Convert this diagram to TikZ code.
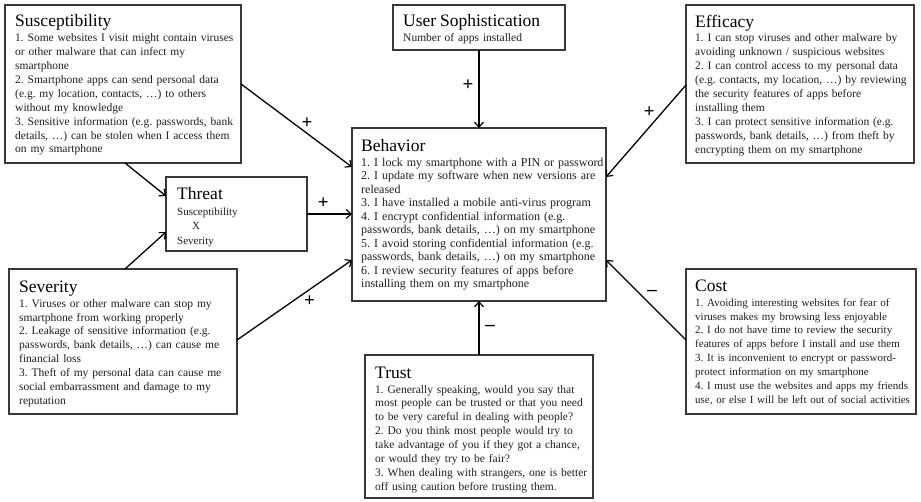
\documentclass[tikz,border=0pt]{standalone}
\usepackage{fontspec}
\setmainfont{Liberation Serif}
\usetikzlibrary{arrows.meta}
\setlength{\parindent}{0pt}
\frenchspacing
\newcommand{\boxtitle}[1]{{\fontsize{17.5}{18}\selectfont\color{black}#1\par}\vspace{1pt}}
\tikzset{
  box/.style={draw=black!78, line width=1.1pt, inner sep=0pt, outer sep=0pt, anchor=north west},
  txt/.style={inner sep=0pt, anchor=north west, text width=300pt, align=left, text=black!88,
    font=\fontsize{11.5}{13.9}\selectfont},
  arr/.style={line width=1.3pt, -{Straight Barb[length=5pt,width=9pt,line width=1.2pt]}},
  lbl/.style={font=\fontsize{19}{19}\selectfont\bfseries, inner sep=0pt}
}
\begin{document}
\begin{tikzpicture}[x=1pt,y=1pt]
\useasboundingbox[fill=white] (0,0) rectangle (921,-501);

% boxes
\node[box, minimum width=236pt, minimum height=158pt] (sus) at (5,-5) {};
\node[box, minimum width=141pt, minimum height=74pt] (thr) at (166,-177) {};
\node[box, minimum width=228pt, minimum height=145pt] (sev) at (9,-269) {};
\node[box, minimum width=172pt, minimum height=45pt] (usr) at (393,-5) {};
\node[box, minimum width=254pt, minimum height=173pt] (beh) at (352,-128) {};
\node[box, minimum width=228pt, minimum height=158pt] (eff) at (686,-5) {};
\node[box, minimum width=230pt, minimum height=145pt] (cost) at (686,-269) {};
\node[box, minimum width=228pt, minimum height=143pt] (tru) at (365,-355) {};

% texts
\node[txt] (susT) at (15,-14.5) {\boxtitle{Susceptibility}
1. Some websites I visit might contain viruses\\
or other malware that can infect my\\
smartphone\\
2. Smartphone apps can send personal data\\
(e.g. my location, contacts, \dots) to others\\
without my knowledge\\
3. Sensitive information (e.g. passwords, bank\\
details, \dots) can be stolen when I access them\\
on my smartphone};

\node[txt, font=\fontsize{11}{14.5}\selectfont] (thrT) at (177,-187.5) {\boxtitle{Threat}
Susceptibility\\
\hspace*{15pt}X\\
Severity};

\node[txt] (sevT) at (19,-280.5) {\boxtitle{Severity}
1. Viruses or other malware can stop my\\
smartphone from working properly\\
2. Leakage of sensitive information (e.g.\\
passwords, bank details, \dots) can cause me\\
financial loss\\
3. Theft of my personal data can cause me\\
social embarrassment and damage to my\\
reputation};

\node[txt] (usrT) at (403,-14.5) {\boxtitle{User Sophistication}
Number of apps installed};

\node[txt, font=\fontsize{12}{13.5}\selectfont] (behT) at (361,-139.5) {\boxtitle{Behavior}
1. I lock my smartphone with a PIN or password\\
2. I update my software when new versions are\\
released\\
3. I have installed a mobile anti-virus program\\
4. I encrypt confidential information (e.g.\\
passwords, bank details, \dots) on my smartphone\\
5. I avoid storing confidential information (e.g.\\
passwords, bank details, \dots) on my smartphone\\
6. I review security features of apps before\\
installing them on my smartphone};

\node[txt] (effT) at (695,-14.5) {\boxtitle{Efficacy}
1. I can stop viruses and other malware by\\
avoiding unknown / suspicious websites\\
2. I can control access to my personal data\\
(e.g. contacts, my location, \dots) by reviewing\\
the security features of apps before\\
installing them\\
3. I can protect sensitive information (e.g.\\
passwords, bank details, \dots) from theft by\\
encrypting them on my smartphone};

\node[txt, font=\fontsize{11}{13.9}\selectfont] (costT) at (695,-279.5) {\boxtitle{Cost}
1. Avoiding interesting websites for fear of\\
viruses makes my browsing less enjoyable\\
2. I do not have time to review the security\\
features of apps before I install and use them\\
3. It is inconvenient to encrypt or password-\\
protect information on my smartphone\\
4. I must use the websites and apps my friends\\
use, or else I will be left out of social activities};

\node[txt] (truT) at (375,-366.5) {\boxtitle{Trust}
1. Generally speaking, would you say that\\
most people can be trusted or that you need\\
to be very careful in dealing with people?\\
2. Do you think most people would try to\\
take advantage of you if they got a chance,\\
or would they try to be fair?\\
3. When dealing with strangers, one is better\\
off using caution before trusting them.};

% connectors
\draw[arr] ([yshift=-79pt]sus.north east) -- ([yshift=-39pt]beh.north west)
  node[lbl, pos=0.595, yshift=10pt] {+};
\draw[arr] (thr.east) -- (thr.east -| beh.west)
  node[lbl, pos=0.36, yshift=11pt] {+};
\draw[arr] ([yshift=-71pt]sev.north east) -- ([yshift=-132pt]beh.north west)
  node[lbl, pos=0.63, yshift=-12pt] {+};
\draw[arr] ([xshift=120pt]sus.south west) -- ([yshift=-19pt]thr.north west);
\draw[arr] ([xshift=116pt]sev.north west) -- ([yshift=-55pt]thr.north west);
\draw[arr] (usr.south) -- (usr.south |- beh.north)
  node[lbl, pos=0.45, xshift=-11pt] {+};
\draw[arr] ([yshift=-80pt]eff.north west) -- ([yshift=-49pt]beh.north east)
  node[lbl, pos=0.46, yshift=15pt] {+};
\draw[arr] ([yshift=-71pt]cost.north west) -- ([yshift=-132pt]beh.north east)
  node[lbl, pos=0.425, yshift=13pt] {\textendash};
\draw[arr] (tru.north) -- (tru.north |- beh.south)
  node[lbl, pos=0.5, xshift=11pt] {\textendash};
\end{tikzpicture}
\end{document}
